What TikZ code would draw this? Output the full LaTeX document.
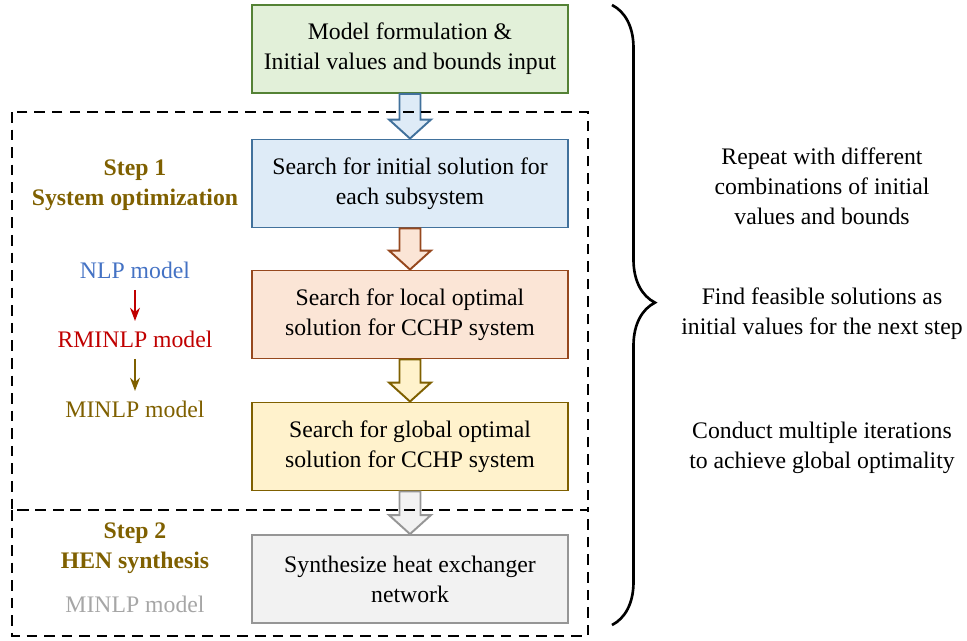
\documentclass[tikz,border=0pt]{standalone}
\usepackage{fontspec}
\setmainfont{Liberation Serif}
\usetikzlibrary{arrows.meta,calc,decorations.pathreplacing}
\definecolor{greenfill}{RGB}{226,240,217}
\definecolor{greenline}{RGB}{84,130,53}
\definecolor{bluefill}{RGB}{222,235,247}
\definecolor{blueline}{RGB}{65,113,156}
\definecolor{orangefill}{RGB}{251,229,214}
\definecolor{orangeline}{RGB}{150,72,30}
\definecolor{yellowfill}{RGB}{255,242,204}
\definecolor{yellowline}{RGB}{127,96,0}
\definecolor{grayfill}{RGB}{242,242,242}
\definecolor{grayline}{RGB}{150,150,150}
\definecolor{nlpblue}{RGB}{68,114,196}
\definecolor{rminlpred}{RGB}{192,0,0}
\definecolor{olive}{RGB}{127,96,0}
\definecolor{lightgray}{RGB}{166,166,166}
\newcommand{\blockarrow}[4]{%
\filldraw[fill=#3, draw=#4, line width=1.1pt, line join=miter]
  ($(#1.south)+(-10.5,0)$) -- ($(#1.south)+(10.5,0)$) -- ($(#2.north)+(10.5,-19)$)
  -- ($(#2.north)+(21,-19)$) -- (#2.north) -- ($(#2.north)+(-21,-19)$)
  -- ($(#2.north)+(-10.5,-19)$) -- cycle;}
\begin{document}
\begin{tikzpicture}[x=0.02cm, y=-0.02cm, >=Stealth,
  every node/.style={font=\fontsize{13.5}{17}\selectfont, align=center},
  stepbox/.style={draw, line width=1.1pt, minimum width=6.32cm, minimum height=1.76cm, inner sep=0pt},
  frame/.style={line width=1.4pt, dash pattern=on 6pt off 4pt},
  thin arrow/.style={->, line width=1pt, shorten <=3pt, shorten >=2pt}]
\useasboundingbox (0,0) rectangle (967,640);
% main flow
\node[stepbox, fill=greenfill, draw=greenline] (input) at (410,49) {Model formulation \&\\Initial values and bounds input};
\node[stepbox, fill=bluefill, draw=blueline] (init) at (410,183.5) {Search for initial solution for\\each subsystem};
\node[stepbox, fill=orangefill, draw=orangeline] (local) at (410,314.5) {Search for local optimal\\solution for CCHP system};
\node[stepbox, fill=yellowfill, draw=yellowline] (global) at (410,446.5) {Search for global optimal\\solution for CCHP system};
\node[stepbox, fill=grayfill, draw=grayline] (hen) at (410,579) {Synthesize heat exchanger\\network};
\blockarrow{input}{init}{bluefill}{blueline}
\blockarrow{init}{local}{orangefill}{orangeline}
\blockarrow{local}{global}{yellowfill}{yellowline}
\blockarrow{global}{hen}{grayfill}{grayline}
% step frames
\draw[frame] (12,112) rectangle (588,510);
\draw[frame] (12,510) rectangle (588,636);
% left labels
\node[text=olive, font=\fontsize{13.5}{17}\selectfont\bfseries] (step1) at (135,185) {Step 1\\System optimization};
\node[text=nlpblue] (nlp) at (135,270) {NLP model};
\node[text=rminlpred] (rminlp) at (135,339) {RMINLP model};
\node[text=olive] (minlp) at (135,409) {MINLP model};
\draw[thin arrow, rminlpred] (nlp) -- (rminlp);
\draw[thin arrow, olive] (rminlp) -- (minlp);
\node[text=olive, font=\fontsize{13.5}{17}\selectfont\bfseries] (step2) at (135,548) {Step 2\\HEN synthesis};
\node[text=lightgray] (minlp2) at (135,604) {MINLP model};
% brace and notes
\draw[line width=1.5pt, decorate, decoration={brace, amplitude=0.86cm, aspect=0.48}] (612,5) -- (612,625);
\node (repeat) at (822,186) {Repeat with different\\combinations of initial\\values and bounds};
\node (feasible) at (822,314) {Find feasible solutions as\\initial values for the next step};
\node (iterate) at (822,448) {Conduct multiple iterations\\to achieve global optimality};
\end{tikzpicture}
\end{document}
